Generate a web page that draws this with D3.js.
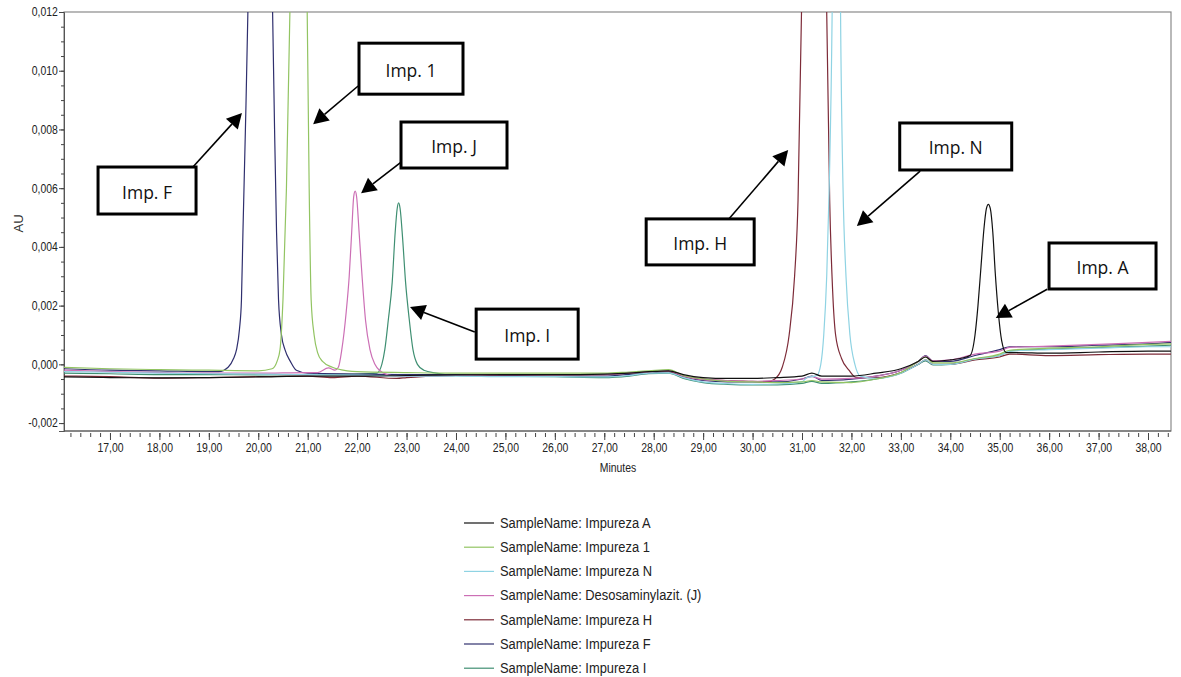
<!DOCTYPE html>
<html>
<head>
<meta charset="utf-8">
<script src="https://cdn.jsdelivr.net/npm/d3@7"></script>
<style>
  body { margin: 0; background: #fff; }
  svg { display: block; }
  .tick text { font-family: "Liberation Sans", Arial, sans-serif; font-size: 12px; fill: #222; }
</style>
</head>
<body>
<svg class="chart"></svg>
<script>
// series: [minutes, AU]
const impA = [[16.07,-0.00043],[17,-0.00045],[18,-0.00046],[19,-0.00045],[20,-0.00043],[21,-0.0004],[22,-0.0004],[23,-0.00038],[24,-0.00036],[25,-0.00035],[26,-0.00035],[27,-0.00033],[27.5,-0.0003],[27.9,-0.00025],[28.3,-0.00022],[28.6,-0.00035],[29,-0.00045],[29.5,-0.00048],[30,-0.00048],[30.5,-0.00045],[31,-0.0004],[31.2,-0.0003],[31.4,-0.0004],[32,-0.0004],[32.5,-0.0003],[33,-0.00015],[33.35,0.0001],[33.5,0.00025],[33.65,0.0001],[34,0.00015],[34.2,0.0002],[34.4,0.0003],[34.5,0.001],[34.56,0.002],[34.62,0.0033],[34.68,0.0046],[34.73,0.0053],[34.77,0.00545],[34.81,0.0053],[34.86,0.0045],[34.91,0.0031],[34.97,0.0018],[35.04,0.0008],[35.13,0.0004],[35.3,0.0004],[36,0.00038],[37,0.00042],[38,0.00045],[38.465,0.00045]];
const imp1 = [[16.07,-0.0001],[17,-0.00015],[18,-0.00018],[19,-0.0002],[20,-0.00022],[20.28,-0.00015],[20.38,0.0001],[20.44,0.0005],[20.5,0.0022],[20.57,0.006],[20.64,0.012],[20.7,0.018],[20.81,0.024],[20.93,0.018],[20.99,0.012],[21.03,0.006],[21.07,0.0022],[21.13,0.001],[21.2,0.0004],[21.3,0.0001],[21.5,-0.0001],[21.8,-0.00022],[22,-0.00025],[23,-0.00028],[24,-0.0003],[25,-0.0003],[26,-0.0003],[27,-0.0003],[27.5,-0.00026],[27.9,-0.00022],[28.3,-0.00018],[28.6,-0.00038],[29,-0.0005],[29.5,-0.00058],[30,-0.0006],[30.5,-0.00062],[31,-0.0006],[31.2,-0.00055],[31.4,-0.0006],[32,-0.00062],[32.5,-0.0005],[33,-0.00028],[33.35,0.0001],[33.5,0.00025],[33.65,0.00005],[34,0.00005],[34.5,0.0002],[35,0.00035],[35.2,0.00048],[36,0.00055],[37,0.0006],[38,0.00068],[38.465,0.0007]];
const impN = [[16.07,-0.00025],[17,-0.00027],[18,-0.0003],[19,-0.00032],[20,-0.00033],[21,-0.00035],[22,-0.00037],[23,-0.0004],[24,-0.0004],[25,-0.00042],[26,-0.00042],[27,-0.00043],[27.5,-0.00038],[27.9,-0.0003],[28.3,-0.00029],[28.6,-0.00045],[29,-0.0006],[29.5,-0.00066],[30,-0.00068],[30.5,-0.00067],[31,-0.0006],[31.1,-0.00045],[31.3,-0.00038],[31.38,0],[31.44,0.001],[31.5,0.003],[31.55,0.006],[31.61,0.012],[31.65,0.02],[31.7,0.03],[31.75,0.02],[31.78,0.012],[31.83,0.006],[31.89,0.003],[31.97,0.001],[32.07,0],[32.18,-0.0004],[32.5,-0.00048],[33,-0.0003],[33.35,0],[33.5,0.00015],[33.65,0],[34,0],[34.5,0.00018],[35,0.0003],[35.2,0.00045],[36,0.0005],[37,0.00055],[38,0.0006],[38.465,0.0006]];
const impJ = [[16.07,-0.0002],[17,-0.00025],[18,-0.00028],[19,-0.0003],[20,-0.0003],[21,-0.00028],[21.2,-0.00028],[21.42,-0.00012],[21.55,-0.0002],[21.62,-0.0001],[21.69,0.0005],[21.78,0.0018],[21.84,0.003],[21.89,0.0045],[21.93,0.0057],[21.96,0.0059],[21.99,0.0057],[22.04,0.0045],[22.1,0.003],[22.17,0.0015],[22.26,0.0005],[22.36,0],[22.45,-0.0002],[22.7,-0.00038],[23,-0.0004],[24,-0.00038],[25,-0.00035],[26,-0.00035],[27,-0.00035],[27.5,-0.0003],[27.9,-0.00025],[28.3,-0.00022],[28.6,-0.0004],[29,-0.00052],[29.5,-0.00055],[30,-0.00058],[30.5,-0.00055],[31,-0.0005],[31.2,-0.00042],[31.4,-0.0005],[32,-0.00048],[32.5,-0.0004],[33,-0.0002],[33.35,0.0001],[33.5,0.00028],[33.65,0.00012],[34,0.00015],[34.5,0.00035],[35,0.00045],[35.2,0.00058],[36,0.00062],[37,0.00068],[38,0.00075],[38.465,0.00078]];
const impH = [[16.07,-0.0004],[17,-0.00042],[18,-0.00047],[19,-0.00045],[20,-0.00042],[21,-0.0004],[21.5,-0.00045],[22,-0.0004],[22.8,-0.00048],[23,-0.00045],[24,-0.00038],[25,-0.00036],[26,-0.00036],[27,-0.00035],[27.5,-0.0003],[27.9,-0.00026],[28.3,-0.00024],[28.6,-0.0004],[29,-0.0005],[29.5,-0.00055],[30,-0.00058],[30.3,-0.0006],[30.45,-0.0005],[30.6,-0.0001],[30.74,0.001],[30.85,0.003],[30.92,0.0056],[30.99,0.012],[31.05,0.02],[31.24,0.035],[31.44,0.02],[31.5,0.012],[31.56,0.0056],[31.62,0.0025],[31.68,0.001],[31.8,0.0002],[31.95,-0.0002],[32.1,-0.00045],[32.5,-0.00045],[33,-0.00028],[33.35,0],[33.5,0.00015],[33.65,0],[34,0],[34.5,0.00015],[35,0.00025],[35.2,0.00035],[36,0.0003],[37,0.00033],[38,0.00035],[38.465,0.00035]];
const impF = [[16.07,-0.00015],[17,-0.0002],[18,-0.00022],[19,-0.00025],[19.2,-0.00025],[19.39,-0.0001],[19.5,0.0002],[19.56,0.0005],[19.62,0.0012],[19.66,0.0022],[19.69,0.0045],[19.74,0.008],[19.79,0.012],[19.84,0.018],[20.04,0.03],[20.24,0.018],[20.29,0.012],[20.33,0.008],[20.37,0.0045],[20.41,0.0022],[20.47,0.001],[20.54,0.0005],[20.65,0.0001],[20.77,-0.0002],[21,-0.0003],[22,-0.00033],[23,-0.00035],[24,-0.00035],[25,-0.00038],[26,-0.0004],[27,-0.0004],[27.5,-0.00034],[27.9,-0.0003],[28.3,-0.00025],[28.6,-0.00042],[29,-0.00055],[29.5,-0.0006],[30,-0.0006],[30.5,-0.0006],[31,-0.0005],[31.2,-0.0004],[31.4,-0.00055],[32,-0.0005],[32.5,-0.0004],[33,-0.0002],[33.35,0.0001],[33.5,0.0003],[33.65,0.0001],[34,0.0001],[34.5,0.0003],[35,0.0005],[35.2,0.0006],[36,0.0006],[37,0.00065],[38,0.0007],[38.465,0.00075]];
const impI = [[16.07,-0.0003],[17,-0.00032],[18,-0.00035],[19,-0.00035],[20,-0.00036],[21,-0.00035],[22,-0.00033],[22.4,-0.0003],[22.5,0],[22.56,0.0005],[22.63,0.0015],[22.71,0.0028],[22.77,0.0045],[22.81,0.0053],[22.84,0.0055],[22.87,0.0053],[22.92,0.0043],[22.98,0.0028],[23.05,0.0016],[23.13,0.0005],[23.22,0],[23.35,-0.0002],[23.6,-0.0003],[24,-0.00038],[25,-0.0004],[26,-0.00042],[27,-0.00045],[27.5,-0.0004],[27.9,-0.00032],[28.3,-0.0003],[28.6,-0.00048],[29,-0.00062],[29.5,-0.00068],[30,-0.0007],[30.5,-0.0007],[31,-0.00065],[31.2,-0.00058],[31.4,-0.00065],[32,-0.0006],[32.5,-0.0005],[33,-0.0003],[33.35,0],[33.5,0.00012],[33.65,-0.00002],[34,0],[34.5,0.00018],[35,0.0003],[35.2,0.00045],[36,0.00052],[37,0.00058],[38,0.00062],[38.465,0.00065]];

const seriesNames = ["SampleName: Impureza A","SampleName: Impureza 1","SampleName: Impureza N","SampleName: Desosaminylazit. (J)","SampleName: Impureza H","SampleName: Impureza F","SampleName: Impureza I"];
const seriesData = [impA, imp1, impN, impJ, impH, impF, impI];
const seriesColors = ["#111111","#92c462","#8fd3e3","#cc6fb5","#7d2b38","#2f2f6e","#3f8f72"];

const xMajorTicks = d3.range(17, 39, 1);
const yMajorTicks = [-0.002, 0, 0.002, 0.004, 0.006, 0.008, 0.010, 0.012];

// annotations: label, box centre [min, AU], arrow start, arrow tip
const annLabels = ["Imp. F","Imp. 1","Imp. J","Imp. I","Imp. H","Imp. N","Imp. A"];
const annBox = [[17.75,0.00592],[23.09,0.01007],[23.96,0.00747],[25.44,0.00103],[28.94,0.00417],[34.11,0.00742],[37.08,0.00335]];
const annFrom = [[18.66,0.00669],[22.02,0.00948],[22.89,0.00689],[24.38,0.0011],[29.52,0.00495],[33.39,0.00658],[35.96,0.00256]];
const annTip = [[19.67,0.00856],[21.11,0.00818],[22.08,0.00583],[23.07,0.00195],[30.72,0.0073],[32.11,0.00471],[34.92,0.00158]];
const annSize = [[98,47],[104,51],[106,46],[102,50],[108,46],[112,47],[107,46]];

const width = 1181, height = 677;
const plotL = 64, plotR = 1171, plotT = 12, plotB = 431;
const narrow = 'scale(0.87,1)';
const svg = d3.select('.chart').attr('width', width).attr('height', height);

const x = d3.scaleLinear().domain([16.07, 38.465]).range([plotL, plotR]);
const y = d3.scaleLinear().domain([-0.00227, 0.012]).range([plotB, plotT]);

svg.append('clipPath').attr('id','plotclip')
  .append('rect').attr('x',plotL).attr('y',plotT).attr('width',plotR-plotL).attr('height',plotB-plotT);

// frame
svg.append('rect').attr('x',plotL).attr('y',plotT).attr('width',plotR-plotL).attr('height',plotB-plotT)
  .attr('fill','none').attr('stroke','#8a8a8a').attr('stroke-width',1.2);

const fmt = d => d3.format('.3f')(d).replace('.', ',').replace('\u2212', '-');

// y axis
const yMinor = svg.append('g').attr('transform',`translate(${plotL},0)`)
  .call(d3.axisLeft(y).tickValues(d3.range(-0.002, 0.01201, 0.0005)).tickSize(3).tickFormat(''));
yMinor.select('.domain').remove();
yMinor.selectAll('line').attr('stroke','#444');
const yAxis = svg.append('g').attr('transform',`translate(${plotL},0)`)
  .call(d3.axisLeft(y).tickValues(yMajorTicks).tickSize(5).tickPadding(2).tickFormat(fmt));
yAxis.select('.domain').attr('stroke','#555');
yAxis.selectAll('line').attr('stroke','#444');
yAxis.selectAll('text').attr('transform', narrow);

// x axis
const xMinor = svg.append('g').attr('transform',`translate(0,${plotB + 2})`)
  .call(d3.axisBottom(x).tickValues(d3.range(16.2, 38.41, 0.2)).tickSize(4).tickFormat(''));
xMinor.select('.domain').remove();
xMinor.selectAll('line').attr('stroke','#444');
const xAxis = svg.append('g').attr('transform',`translate(0,${plotB + 2})`)
  .call(d3.axisBottom(x).tickValues(xMajorTicks).tickSize(7).tickPadding(3).tickFormat(d => d3.format('.2f')(d).replace('.', ',')));
xAxis.select('.domain').remove();
xAxis.selectAll('line').attr('stroke','#444');
xAxis.selectAll('text').attr('transform', narrow);
svg.append('line').attr('x1',plotL).attr('x2',plotR).attr('y1',plotB).attr('y2',plotB).attr('stroke','#555');

svg.append('text').attr('transform',`translate(20,${(plotT+plotB)/2 + 2}) rotate(-90)`)
  .attr('text-anchor','middle').attr('dominant-baseline','middle')
  .style('font-family','"Liberation Sans", Arial, sans-serif').style('font-size','13px').attr('fill','#333').text('AU');
svg.append('text').attr('transform',`translate(618,472) ${narrow}`).attr('text-anchor','middle')
  .style('font-family','"Liberation Sans", Arial, sans-serif').style('font-size','12px').attr('fill','#222').text('Minutes');

// traces
const line = d3.line().x(d => x(d[0])).y(d => y(d[1])).curve(d3.curveMonotoneX);
const traces = svg.append('g').attr('clip-path','url(#plotclip)');
[6,5,4,3,2,1,0].forEach(i => {
  traces.append('path').attr('d', line(seriesData[i])).attr('fill','none')
    .attr('stroke', seriesColors[i]).attr('stroke-width',1.2);
});

// annotations
const ann = svg.append('g');
annLabels.forEach((lab, i) => {
  const cx = x(annBox[i][0]), cy = y(annBox[i][1]);
  const [w, h] = annSize[i];
  const fx = x(annFrom[i][0]), fy = y(annFrom[i][1]);
  const tx = x(annTip[i][0]), ty = y(annTip[i][1]);
  // line stops short of the tip so the filled head sits on it
  const len = Math.hypot(tx - fx, ty - fy);
  const ex = tx - (tx - fx) / len * 15, ey = ty - (ty - fy) / len * 15;
  ann.append('line').attr('x1',fx).attr('y1',fy).attr('x2',ex).attr('y2',ey)
    .attr('stroke','#000').attr('stroke-width',1.6);
  const a = Math.atan2(ty - fy, tx - fx);
  const hw = 8;
  ann.append('path')
    .attr('d', `M${tx},${ty} L${ex + Math.sin(a)*hw},${ey - Math.cos(a)*hw} L${ex - Math.sin(a)*hw},${ey + Math.cos(a)*hw} Z`)
    .attr('fill','#000');
  ann.append('rect').attr('x',cx - w/2).attr('y',cy - h/2).attr('width',w).attr('height',h)
    .attr('fill','#fff').attr('stroke','#000').attr('stroke-width',3);
  ann.append('text').attr('x',cx).attr('y',cy + 1).attr('text-anchor','middle').attr('dominant-baseline','central')
    .style('font-family','"Open Sans", Lato, sans-serif').style('font-size','17.5px').attr('fill','#111').text(lab);
});

// legend
const legend = svg.append('g');
seriesNames.forEach((name, i) => {
  const ly = 523 + i * 24.2;
  legend.append('line').attr('x1',464).attr('x2',494).attr('y1',ly).attr('y2',ly)
    .attr('stroke', seriesColors[i]).attr('stroke-width',1.2);
  legend.append('text').attr('transform',`translate(500,${ly}) scale(0.89,1)`).attr('dominant-baseline','central')
    .style('font-family','"Liberation Sans", Arial, sans-serif').style('font-size','14.5px')
    .attr('fill','#222').text(name);
});
</script>
</body>
</html>
